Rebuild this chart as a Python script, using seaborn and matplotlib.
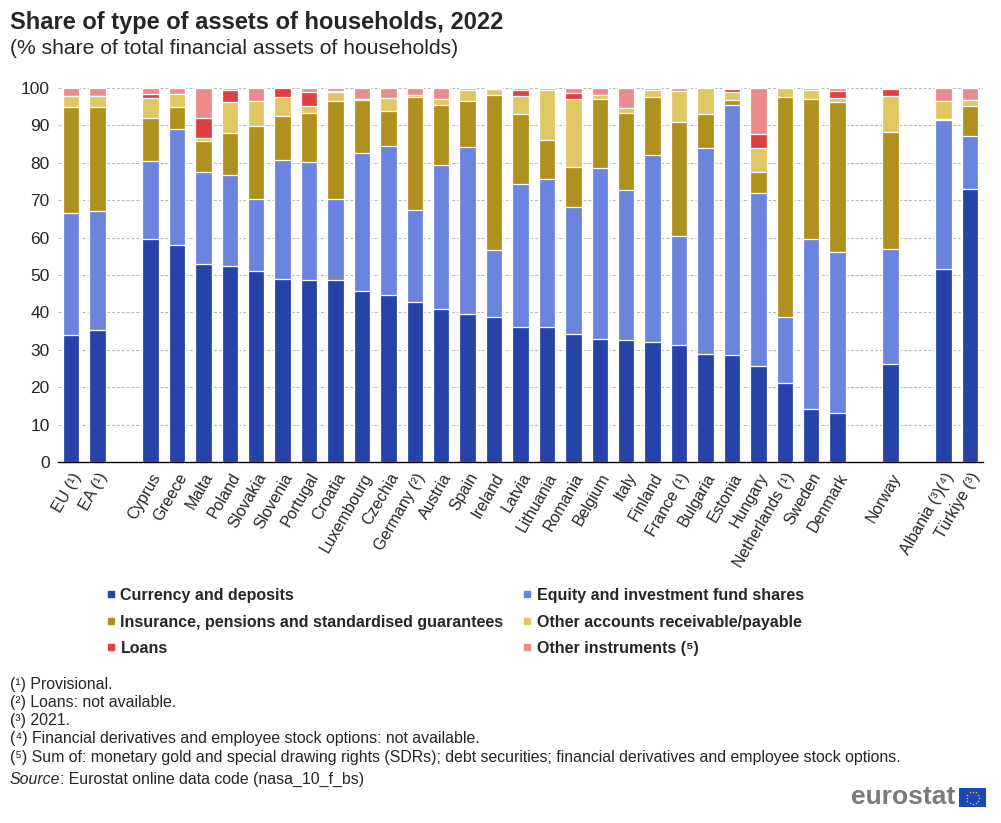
import numpy as np
import pandas as pd
import seaborn as sns
import matplotlib.pyplot as plt
from matplotlib.lines import Line2D
from matplotlib.patches import Rectangle

# countries as they appear on the x axis (gaps are added below)
labels = ["EU (¹)", "EA (¹)", "Cyprus", "Greece", "Malta", "Poland", "Slovakia",
          "Slovenia", "Portugal", "Croatia", "Luxembourg", "Czechia", "Germany (²)",
          "Austria", "Spain", "Ireland", "Latvia", "Lithuania", "Romania", "Belgium",
          "Italy", "Finland", "France (¹)", "Bulgaria", "Estonia", "Hungary",
          "Netherlands (¹)", "Sweden", "Denmark", "Norway", "Albania (³)(⁴)", "Türkiye (³)"]

currency = [34.0, 35.4, 59.5, 57.9, 52.9, 52.3, 51.0, 49.0, 48.6, 48.6, 45.6, 44.7, 42.7,
            40.8, 39.5, 38.9, 36.2, 36.2, 34.1, 32.8, 32.5, 32.0, 31.2, 29.0, 28.7, 25.8,
            21.0, 14.3, 13.2, 26.3, 51.5, 72.9]
equity = [32.7, 31.8, 20.9, 31.1, 24.6, 24.4, 19.3, 31.7, 31.6, 21.7, 37.0, 39.8, 24.6,
          38.5, 44.6, 17.7, 38.1, 39.4, 34.0, 45.8, 40.2, 50.1, 29.2, 54.9, 66.7, 46.1,
          17.9, 45.2, 42.9, 30.6, 39.9, 14.2]
insurance = [28.1, 27.6, 11.7, 5.9, 8.2, 11.2, 19.5, 11.8, 13.1, 26.2, 14.2, 9.3, 30.3,
             16.1, 12.4, 41.5, 18.7, 10.4, 10.7, 18.4, 20.6, 15.5, 30.4, 9.1, 1.4, 5.6,
             58.7, 37.5, 40.1, 31.3, 0.3, 8.1]
other_acc = [3.1, 3.1, 5.2, 3.5, 0.8, 8.4, 6.7, 5.2, 1.9, 2.4, 0.3, 3.5, 0.5,
             1.6, 3.0, 1.7, 4.9, 13.5, 18.3, 1.1, 1.3, 1.9, 8.3, 7.0, 2.1, 6.4,
             2.4, 2.5, 1.1, 9.7, 4.9, 1.6]
loans = [0.0, 0.0, 1.0, 0.0, 5.6, 3.1, 0.0, 2.3, 3.7, 0.4, 0.0, 0.0, 0.0,
         0.0, 0.0, 0.0, 1.5, 0.0, 1.6, 0.0, 0.0, 0.0, 0.0, 0.0, 0.8, 3.8,
         0.0, 0.0, 2.0, 1.8, 0.0, 0.0]
other_instr = [2.1, 2.1, 1.7, 1.6, 7.9, 0.6, 3.5, 0.0, 1.1, 0.7, 2.9, 2.7, 1.9,
               3.0, 0.5, 0.2, 0.6, 0.5, 1.3, 1.9, 5.4, 0.5, 0.9, 0.0, 0.3, 12.3,
               0.0, 0.5, 0.7, 0.3, 3.4, 3.2]

series_names = ["Currency and deposits", "Equity and investment fund shares",
                "Insurance, pensions and standardised guarantees",
                "Other accounts receivable/payable", "Loans", "Other instruments (⁵)"]
colors = ["#2644A7", "#6B84DD", "#B09120", "#E1C764", "#E04040", "#EC8B8C"]

footnotes = ["(¹) Provisional.",
             "(²) Loans: not available.",
             "(³) 2021.",
             "(⁴) Financial derivatives and employee stock options: not available.",
             "(⁵) Sum of: monetary gold and special drawing rights (SDRs); debt securities; "
             "financial derivatives and employee stock options."]

# empty slots between groups
order = labels[:2] + [" "] + labels[2:29] + ["  "] + [labels[29]] + ["   "] + labels[30:]

sns.set_theme(style="white")
plt.rcParams["font.family"] = ["Liberation Sans", "DejaVu Sans"]

df = pd.DataFrame({"country": labels})
values = [currency, equity, insurance, other_acc, loans, other_instr]
running = np.zeros(len(labels))
for i, v in enumerate(values):
    running = running + np.array(v)
    df[f"cum{i}"] = running

W, H = 1001, 823
fig = plt.figure(figsize=(W / 100, H / 100), dpi=100)
ax = fig.add_axes([58 / W, 1 - 462 / H, (983 - 58) / W, (462 - 88) / H])

# stacked bars: draw cumulative totals from the top series down
for i in reversed(range(len(values))):
    sns.barplot(data=df, x="country", y=f"cum{i}", order=order, color=colors[i],
                saturation=1, width=0.62, edgecolor="white", linewidth=0.9,
                errorbar=None, ax=ax)

ax.set_xlim(-0.5, len(order) - 0.5)
ax.set_ylim(0, 100)
ax.set_yticks(range(0, 101, 10))
ax.yaxis.grid(True, linestyle=(0, (3, 2)), color="#b4b4b4", linewidth=0.7)
ax.set_axisbelow(True)
ax.set_xlabel("")
ax.set_ylabel("")
for s in ["left", "top", "right"]:
    ax.spines[s].set_visible(False)
ax.spines["bottom"].set_color("black")
ax.spines["bottom"].set_linewidth(1.0)

ax.set_xticks(range(len(order)))
ax.set_xticklabels(order, rotation=60, ha="right", rotation_mode="anchor", fontsize=11.5)
ax.set_xticks(np.arange(-0.5, len(order), 1), minor=True)
ax.tick_params(axis="x", which="major", length=0, pad=6)
ax.tick_params(axis="x", which="minor", length=5, width=1, color="black", direction="out")
ax.tick_params(axis="y", length=0, pad=6, labelsize=12.5)

fig.text(10 / W, 1 - 23 / H, "Share of type of assets of households, 2022",
         fontsize=17, fontweight="bold", va="center")
fig.text(10 / W, 1 - 49 / H, "(% share of total financial assets of households)",
         fontsize=15.2, va="center")

handles = [Line2D([], [], marker="s", linestyle="", color=c, markersize=5) for c in colors]
idx = [0, 2, 4, 1, 3, 5]
fig.legend([handles[i] for i in idx], [series_names[i] for i in idx],
           loc="upper left", bbox_to_anchor=(106 / W, 1 - 588 / H), ncol=2,
           frameon=False, prop={"weight": "bold", "size": 11.5},
           handlelength=0.6, handletextpad=0.3, columnspacing=1.2, labelspacing=0.72,
           borderaxespad=0, borderpad=0)

y = 684
for line in footnotes:
    fig.text(10 / W, 1 - y / H, line, fontsize=11.4, va="center")
    y += 18.3
src = fig.text(10 / W, 1 - 779 / H, "Source", fontsize=11.4, style="italic", va="center")
fig.canvas.draw()
bb = src.get_window_extent()
fig.text(bb.x1 / W, 1 - 779 / H, ": Eurostat online data code (nasa_10_f_bs)",
         fontsize=11.4, va="center")

# eurostat logo
fig.text(955 / W, 1 - 797 / H, "eurostat", ha="right", va="center",
         color="#7a7a7a", fontsize=19, fontweight="bold")
flag = fig.add_axes([959 / W, 1 - 807 / H, 27 / W, 19 / H])
flag.add_patch(Rectangle((0, 0), 27, 19, color="#1a47b8"))
ang = np.linspace(0, 2 * np.pi, 12, endpoint=False)
flag.scatter(13.5 + 6 * np.cos(ang), 9.5 + 6 * np.sin(ang), marker="*", s=3,
             color="#ffdd00", linewidths=0)
flag.set_xlim(0, 27)
flag.set_ylim(0, 19)
flag.axis("off")

fig.savefig("out.png", dpi=100)
